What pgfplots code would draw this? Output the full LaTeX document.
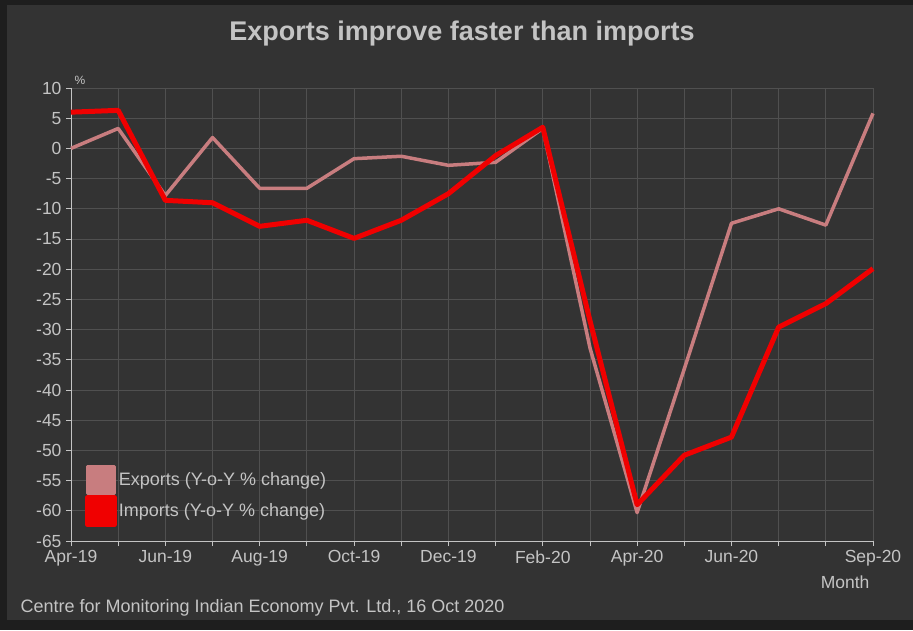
\documentclass[border=0pt]{standalone}
\usepackage{fontspec}
\setmainfont{Liberation Sans}
\usepackage{pgfplots}
\pgfplotsset{compat=1.18}
\definecolor{bg}{HTML}{333333}
\definecolor{frame}{HTML}{1E1E1E}
\definecolor{gridc}{HTML}{505050}
\definecolor{txt}{HTML}{C4C4C4}
\definecolor{expc}{RGB}{200,125,127}
\definecolor{impc}{RGB}{240,0,0}
\pgfplotstableread{
x exp imp
0 0.0 6.0
1 3.3 6.3
2 -7.8 -8.6
3 1.8 -9.0
4 -6.6 -12.9
5 -6.6 -11.9
6 -1.7 -14.9
7 -1.3 -11.9
8 -2.8 -7.5
9 -2.3 -1.2
10 3.3 3.5
11 -33.0 -28.5
12 -60.3 -59.0
13 -36.5 -50.8
14 -12.4 -47.8
15 -10.0 -29.6
16 -12.7 -25.7
17 5.8 -19.9
}\datatab
\begin{document}
\begin{tikzpicture}
\fill[frame] (0,0) rectangle (913pt,630pt);
\fill[bg] (7pt,10pt) rectangle (913pt,625pt);
\node[txt, font=\fontsize{27}{31}\selectfont\bfseries] at (462pt,596pt) {Exports improve faster than imports};
\node[txt, anchor=west, font=\fontsize{18}{21}\selectfont] at (17pt,22pt) {Centre for Monitoring Indian Economy Pvt. Ltd., 16 Oct 2020};
\begin{axis}[
  at={(71pt,89pt)}, anchor=south west,
  scale only axis, width=802pt, height=453pt,
  xmin=0, xmax=17, ymin=-65, ymax=10,
  clip=false,
  axis x line*=bottom, axis y line*=left,
  axis line style={txt, line width=1pt},
  xtick={0,...,17},
  xticklabels={Apr-19,,Jun-19,,Aug-19,,Oct-19,,Dec-19,,Feb-20,,Apr-20,,Jun-20,,,Sep-20},
  ytick={-65,-60,...,10},
  /pgf/number format/assume math mode=true,
  tick label style={txt, font=\fontsize{17.5}{20}\selectfont},
  tick style={txt, line width=0.8pt},
  tick align=outside, major tick length=5pt,
  xticklabel style={yshift=-1pt},
  yticklabel style={xshift=-1pt},
  grid=major,
  major grid style={gridc, line width=0.8pt},
  extra y ticks={0}, extra y tick labels={},
  extra y tick style={grid style={color=txt!85, line width=1.4pt}, major tick length=0pt},
  xlabel={Month},
  xlabel style={txt, font=\fontsize{17.5}{20}\selectfont, at={(rel axis cs:1,0)}, anchor=north east, yshift=-31pt, xshift=0pt},
  legend cell align=left,
  legend style={at={(0.017,0.03)}, anchor=south west, draw=none, fill=none,
    text=txt, font=\fontsize{18}{21}\selectfont, row sep=0pt, inner sep=0pt,
    /tikz/every even column/.append style={column sep=7pt}},
  legend image code/.code={\fill (0pt,-13.5pt) rectangle (27pt,13.5pt);},
]
\addplot[color=expc, line width=3.5pt, line join=round] table[x=x,y=exp] {\datatab};
\addlegendentry{Exports (Y-o-Y \% change)}
\addplot[color=impc, line width=5pt, line join=round] table[x=x,y=imp] {\datatab};
\addlegendentry{Imports (Y-o-Y \% change)}
\node[txt, anchor=south west, font=\fontsize{12}{14}\selectfont] at (rel axis cs:0,1) {\%};
\end{axis}
\end{tikzpicture}
\end{document}
